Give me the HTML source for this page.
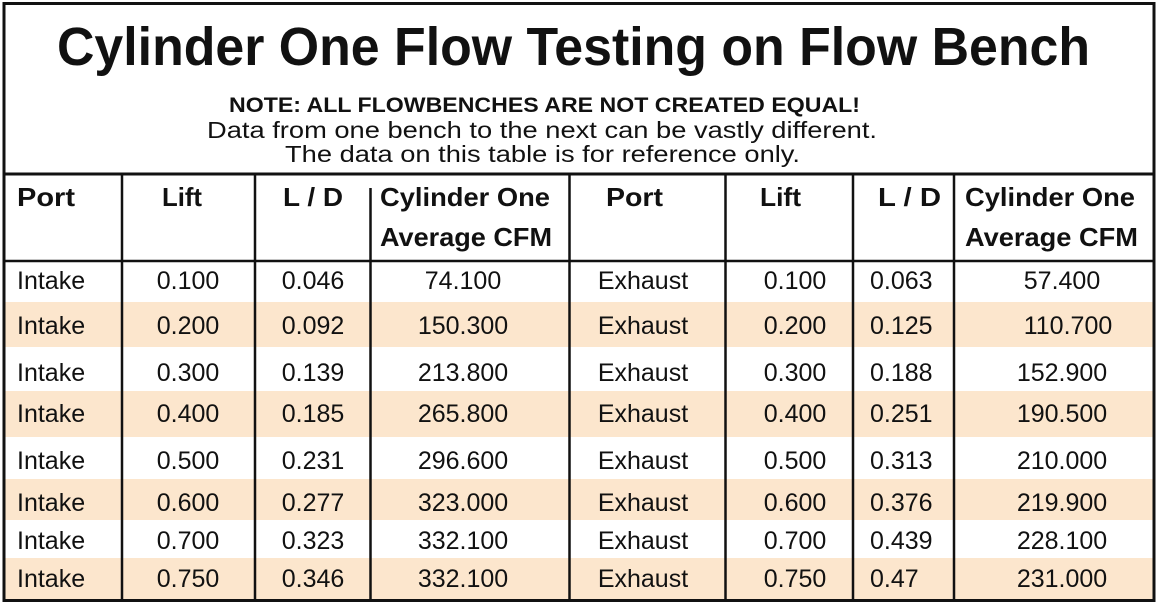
<!DOCTYPE html>
<html><head><meta charset="utf-8"><style>
html,body{margin:0;padding:0;background:#fff;}
svg{display:block;}
text{font-family:"Liberation Sans",sans-serif;fill:#111;}
</style></head><body>
<svg width="1158" height="604" viewBox="0 0 1158 604" xmlns="http://www.w3.org/2000/svg">
<rect width="1158" height="604" fill="#fff"/>
<!-- shaded rows -->
<g fill="#fce6cd">
<rect x="5" y="302" width="1148" height="45"/>
<rect x="5" y="391" width="1148" height="46"/>
<rect x="5" y="479" width="1148" height="41"/>
<rect x="5" y="558" width="1148" height="41"/>
</g>
<!-- borders -->
<g stroke="#111" fill="none">
<rect x="4" y="3.5" width="1150" height="597" stroke-width="3"/>
<line x1="4" y1="174" x2="1154" y2="174" stroke-width="3"/>
<line x1="4" y1="261" x2="1154" y2="261" stroke-width="2.5"/>
<g stroke-width="2.5">
<line x1="122" y1="174" x2="122" y2="600"/>
<line x1="255" y1="174" x2="255" y2="600"/>
<line x1="370.5" y1="188" x2="370.5" y2="600"/>
<line x1="569.5" y1="174" x2="569.5" y2="600"/>
<line x1="725.5" y1="174" x2="725.5" y2="600"/>
<line x1="853" y1="174" x2="853" y2="600"/>
<line x1="954" y1="174" x2="954" y2="600"/>
</g>
</g>
<!-- title -->
<text x="57" y="65" font-size="54" font-weight="bold" textLength="1033" lengthAdjust="spacingAndGlyphs">Cylinder One Flow Testing on Flow Bench</text>
<text x="229" y="112" font-size="21" font-weight="bold" textLength="631" lengthAdjust="spacingAndGlyphs">NOTE: ALL FLOWBENCHES ARE NOT CREATED EQUAL!</text>
<text x="207" y="138" font-size="23" textLength="670" lengthAdjust="spacingAndGlyphs">Data from one bench to the next can be vastly different.</text>
<text x="285" y="162" font-size="23" textLength="515" lengthAdjust="spacingAndGlyphs">The data on this table is for reference only.</text>
<!-- headers -->
<g font-size="26" font-weight="bold">
<text x="17" y="206" textLength="58" lengthAdjust="spacingAndGlyphs">Port</text>
<text x="162" y="206" textLength="40" lengthAdjust="spacingAndGlyphs">Lift</text>
<text x="283" y="206" textLength="60" lengthAdjust="spacingAndGlyphs">L / D</text>
<text x="380" y="206" textLength="170" lengthAdjust="spacingAndGlyphs">Cylinder One</text>
<text x="380" y="246" textLength="172" lengthAdjust="spacingAndGlyphs">Average CFM</text>
<text x="606" y="206" textLength="57" lengthAdjust="spacingAndGlyphs">Port</text>
<text x="760" y="206" textLength="41" lengthAdjust="spacingAndGlyphs">Lift</text>
<text x="878" y="206" textLength="63" lengthAdjust="spacingAndGlyphs">L / D</text>
<text x="965" y="206" textLength="170" lengthAdjust="spacingAndGlyphs">Cylinder One</text>
<text x="965" y="246" textLength="173" lengthAdjust="spacingAndGlyphs">Average CFM</text>
</g>
<!-- data -->
<g font-size="25">
<g>
<text x="17" y="289">Intake</text><text x="17" y="334">Intake</text><text x="17" y="381">Intake</text><text x="17" y="422">Intake</text>
<text x="17" y="469">Intake</text><text x="17" y="511">Intake</text><text x="17" y="549">Intake</text><text x="17" y="587">Intake</text>
</g>
<g text-anchor="middle">
<text x="188" y="289">0.100</text><text x="188" y="334">0.200</text><text x="188" y="381">0.300</text><text x="188" y="422">0.400</text>
<text x="188" y="469">0.500</text><text x="188" y="511">0.600</text><text x="188" y="549">0.700</text><text x="188" y="587">0.750</text>
<text x="313" y="289">0.046</text><text x="313" y="334">0.092</text><text x="313" y="381">0.139</text><text x="313" y="422">0.185</text>
<text x="313" y="469">0.231</text><text x="313" y="511">0.277</text><text x="313" y="549">0.323</text><text x="313" y="587">0.346</text>
<text x="463" y="289">74.100</text><text x="463" y="334">150.300</text><text x="463" y="381">213.800</text><text x="463" y="422">265.800</text>
<text x="463" y="469">296.600</text><text x="463" y="511">323.000</text><text x="463" y="549">332.100</text><text x="463" y="587">332.100</text>
<text x="643" y="289">Exhaust</text><text x="643" y="334">Exhaust</text><text x="643" y="381">Exhaust</text><text x="643" y="422">Exhaust</text>
<text x="643" y="469">Exhaust</text><text x="643" y="511">Exhaust</text><text x="643" y="549">Exhaust</text><text x="643" y="587">Exhaust</text>
<text x="795" y="289">0.100</text><text x="795" y="334">0.200</text><text x="795" y="381">0.300</text><text x="795" y="422">0.400</text>
<text x="795" y="469">0.500</text><text x="795" y="511">0.600</text><text x="795" y="549">0.700</text><text x="795" y="587">0.750</text>
<text x="1062" y="289">57.400</text><text x="1068" y="334">110.700</text><text x="1062" y="381">152.900</text><text x="1062" y="422">190.500</text>
<text x="1062" y="469">210.000</text><text x="1062" y="511">219.900</text><text x="1062" y="549">228.100</text><text x="1062" y="587">231.000</text>
</g>
<g>
<text x="870" y="289">0.063</text><text x="870" y="334">0.125</text><text x="870" y="381">0.188</text><text x="870" y="422">0.251</text>
<text x="870" y="469">0.313</text><text x="870" y="511">0.376</text><text x="870" y="549">0.439</text><text x="870" y="587">0.47</text>
</g>
</g>
</svg>
</body></html>
